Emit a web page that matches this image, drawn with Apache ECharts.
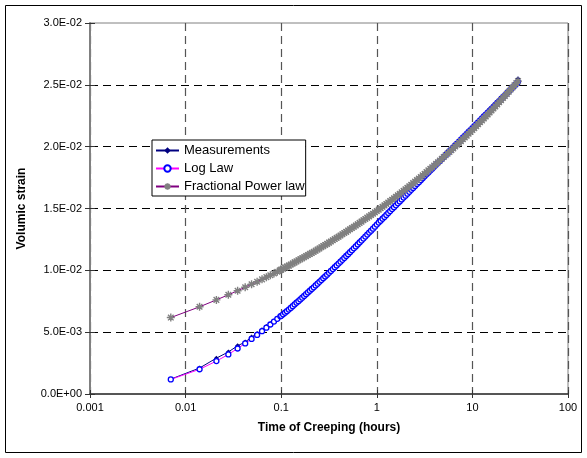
<!DOCTYPE html>
<html>
<head>
<meta charset="utf-8">
<script src="https://cdn.jsdelivr.net/npm/echarts@6/dist/echarts.min.js"></script>
<style>
  html, body { margin: 0; padding: 0; background: #fff; }
  #chart { width: 587px; height: 458px; }
</style>
</head>
<body>
<div id="chart"></div>
<script>
// time of creeping (hours)
const hours = [
  0.007, 0.014, 0.021, 0.028, 0.035, 0.042, 0.049, 0.056, 0.063, 0.070, 0.077, 0.084, 0.091, 0.098,
  0.1, 0.1047, 0.1096, 0.1148, 0.1202, 0.1259, 0.1318, 0.1380, 0.1445, 0.1514, 0.1585, 0.1660, 0.1738, 0.1820, 0.1905,
  0.1995, 0.2089, 0.2188, 0.2291, 0.2399, 0.2512, 0.2630, 0.2754, 0.2884, 0.3020, 0.3162, 0.3311, 0.3467, 0.3631,
  0.3802, 0.3981, 0.4169, 0.4365, 0.4571, 0.4786, 0.5012, 0.5248, 0.5495, 0.5754, 0.6026, 0.6310, 0.6607, 0.6918,
  0.7244, 0.7586, 0.7943, 0.8318, 0.8710, 0.9120, 0.9550,
  1, 1.047, 1.096, 1.148, 1.202, 1.259, 1.318, 1.380, 1.445, 1.514, 1.585, 1.660, 1.738, 1.820, 1.905,
  1.995, 2.089, 2.188, 2.291, 2.399, 2.512, 2.630, 2.754, 2.884, 3.020, 3.162, 3.311, 3.467, 3.631,
  3.802, 3.981, 4.169, 4.365, 4.571, 4.786, 5.012, 5.248, 5.495, 5.754, 6.026, 6.310, 6.607, 6.918,
  7.244, 7.586, 7.943, 8.318, 8.710, 9.120, 9.550,
  10, 10.47, 10.96, 11.48, 12.02, 12.59, 13.18, 13.80, 14.45, 15.14, 15.85, 16.60, 17.38, 18.20, 19.05,
  19.95, 20.89, 21.88, 22.91, 23.99, 25.12, 26.30, 27.54, 28.84, 30
];

const measurements = [
  0.00120, 0.00210, 0.00290, 0.00340, 0.00390, 0.00420, 0.00460, 0.00490, 0.00520, 0.00545, 0.00568, 0.00590, 0.00612, 0.00630,
  0.00636, 0.00642, 0.00662, 0.00670, 0.00680, 0.00702, 0.00711, 0.00722, 0.00742, 0.00754, 0.00764, 0.00784, 0.00795, 0.00804, 0.00827,
  0.00835, 0.00853, 0.00861, 0.00881, 0.00897, 0.00906, 0.00925, 0.00938, 0.00948, 0.00971, 0.00981, 0.00998, 0.01009, 0.01030,
  0.01042, 0.01053, 0.01076, 0.01085, 0.01103, 0.01120, 0.01130, 0.01152, 0.01164, 0.01176, 0.01199, 0.01210, 0.01228, 0.01240,
  0.01262, 0.01273, 0.01293, 0.01307, 0.01319, 0.01343, 0.01354,
  0.01375, 0.01386, 0.01409, 0.01419, 0.01442, 0.01445, 0.01470, 0.01491, 0.01496, 0.01517, 0.01524, 0.01551, 0.01561, 0.01585, 0.01588,
  0.01612, 0.01623, 0.01646, 0.01650, 0.01672, 0.01692, 0.01700, 0.01722, 0.01727, 0.01756, 0.01765, 0.01777, 0.01801, 0.01811,
  0.01835, 0.01838, 0.01861, 0.01880, 0.01887, 0.01909, 0.01913, 0.01944, 0.01953, 0.01964, 0.01988, 0.01998, 0.02024, 0.02025,
  0.02049, 0.02067, 0.02075, 0.02097, 0.02101, 0.02131, 0.02139,
  0.02158, 0.02168, 0.02193, 0.02197, 0.02222, 0.02232, 0.02257, 0.02260, 0.02284, 0.02304, 0.02309, 0.02333, 0.02335, 0.02365, 0.02374,
  0.02399, 0.02402, 0.02425, 0.02444, 0.02446, 0.02474, 0.02483, 0.02507, 0.02517, 0.02550
];

const logLaw = [
  0.00118, 0.00200, 0.00266, 0.00320, 0.00368, 0.00409, 0.00445, 0.00478, 0.00508, 0.00536, 0.00562, 0.00586, 0.00608, 0.00628,
  0.00632, 0.00644, 0.00657, 0.00670, 0.00683, 0.00696, 0.00710, 0.00724, 0.00738, 0.00751, 0.00765, 0.00779, 0.00793, 0.00807, 0.00821,
  0.00835, 0.00849, 0.00863, 0.00878, 0.00892, 0.00907, 0.00921, 0.00936, 0.00950, 0.00965, 0.00980, 0.00995, 0.01010, 0.01025,
  0.01040, 0.01055, 0.01070, 0.01085, 0.01100, 0.01116, 0.01131, 0.01147, 0.01162, 0.01178, 0.01193, 0.01209, 0.01225, 0.01241,
  0.01257, 0.01273, 0.01289, 0.01305, 0.01321, 0.01337, 0.01353,
  0.01370, 0.01386, 0.01401, 0.01417, 0.01432, 0.01448, 0.01464, 0.01479, 0.01495, 0.01510, 0.01526, 0.01542, 0.01557, 0.01573, 0.01588,
  0.01604, 0.01620, 0.01635, 0.01651, 0.01666, 0.01682, 0.01698, 0.01713, 0.01729, 0.01744, 0.01760, 0.01776, 0.01791, 0.01807,
  0.01822, 0.01838, 0.01854, 0.01869, 0.01885, 0.01900, 0.01916, 0.01932, 0.01947, 0.01963, 0.01978, 0.01994, 0.02010, 0.02025,
  0.02041, 0.02056, 0.02072, 0.02088, 0.02103, 0.02119, 0.02134,
  0.02150, 0.02166, 0.02181, 0.02197, 0.02212, 0.02228, 0.02244, 0.02259, 0.02275, 0.02290, 0.02306, 0.02322, 0.02337, 0.02353, 0.02368,
  0.02384, 0.02400, 0.02415, 0.02431, 0.02446, 0.02462, 0.02478, 0.02493, 0.02509, 0.02522
];

const fractionalPower = [
  0.00618, 0.00705, 0.00761, 0.00802, 0.00835, 0.00863, 0.00887, 0.00908, 0.00927, 0.00945, 0.00960, 0.00975, 0.00989, 0.01002,
  0.01006, 0.01014, 0.01022, 0.01030, 0.01038, 0.01047, 0.01055, 0.01064, 0.01072, 0.01081, 0.01089, 0.01098, 0.01106, 0.01115, 0.01124,
  0.01133, 0.01141, 0.01150, 0.01159, 0.01168, 0.01177, 0.01187, 0.01196, 0.01205, 0.01214, 0.01224, 0.01233, 0.01243, 0.01253,
  0.01263, 0.01272, 0.01282, 0.01292, 0.01302, 0.01311, 0.01322, 0.01332, 0.01342, 0.01352, 0.01363, 0.01373, 0.01384, 0.01394,
  0.01405, 0.01415, 0.01426, 0.01436, 0.01447, 0.01458, 0.01469,
  0.01480, 0.01491, 0.01502, 0.01514, 0.01525, 0.01537, 0.01548, 0.01560, 0.01571, 0.01583, 0.01595, 0.01607, 0.01618, 0.01631, 0.01643,
  0.01655, 0.01667, 0.01680, 0.01692, 0.01705, 0.01717, 0.01730, 0.01742, 0.01755, 0.01768, 0.01781, 0.01794, 0.01808, 0.01821,
  0.01834, 0.01847, 0.01861, 0.01874, 0.01888, 0.01902, 0.01916, 0.01930, 0.01944, 0.01958, 0.01972, 0.01986, 0.02001, 0.02015,
  0.02030, 0.02045, 0.02060, 0.02074, 0.02089, 0.02104, 0.02120,
  0.02135, 0.02150, 0.02165, 0.02181, 0.02197, 0.02212, 0.02228, 0.02244, 0.02260, 0.02276, 0.02293, 0.02309, 0.02326, 0.02342, 0.02359,
  0.02376, 0.02393, 0.02410, 0.02427, 0.02444, 0.02462, 0.02479, 0.02497, 0.02514, 0.02530
];

const xMin = 0.001, xMax = 100;
const yMin = 0, yMax = 0.03, yStep = 0.005;

const font = 'Liberation Sans, Arial, sans-serif';

function sci(v) {
  if (Math.abs(v) < 1e-12) return '0.0E+00';
  const e = Math.floor(Math.log10(v) + 1e-9);
  const m = v / Math.pow(10, e);
  return m.toFixed(1) + 'E' + (e < 0 ? '-' : '+') + String(Math.abs(e)).padStart(2, '0');
}

const pairs = ys => hours.map((t, i) => [t, ys[i]]);

const chart = echarts.init(document.getElementById('chart'), null, { renderer: 'canvas' });

const gridLine = { color: '#000', type: [8, 5], width: 1 };

chart.setOption({
  animation: false,
  textStyle: { fontFamily: font },
  graphic: [{
    type: 'rect',
    shape: { x: 5.5, y: 5.5, width: 576, height: 447 },
    style: { fill: 'none', stroke: '#000', lineWidth: 1 },
    silent: true
  }],
  grid: {
    left: 90, right: 19, top: 23, bottom: 64,
    show: true, borderColor: '#808080', borderWidth: 1
  },
  legend: {
    orient: 'vertical',
    left: 152, top: 140,
    itemWidth: 23, itemHeight: 8, itemGap: 5,
    padding: [4, 1, 3, 3],
    borderColor: '#000', borderWidth: 1,
    backgroundColor: '#fff',
    textStyle: { fontSize: 13, color: '#000', fontFamily: font },
    data: ['Measurements', 'Log Law', 'Fractional Power law']
  },
  xAxis: [{
    type: 'log', logBase: 10, min: xMin, max: xMax,
    name: 'Time of Creeping (hours)',
    nameLocation: 'middle', nameGap: 28,
    nameTextStyle: { fontSize: 12, fontWeight: 'bold', color: '#000' },
    axisLine: { lineStyle: { color: '#333', width: 1.5 } },
    axisTick: { show: true, length: 4, lineStyle: { color: '#333' } },
    axisLabel: {
      fontSize: 11, color: '#000', margin: 8,
      formatter: v => String(parseFloat(Number(v).toPrecision(3)))
    },
    splitLine: { show: true, lineStyle: { color: '#555', type: [8, 5], width: 1.2 } },
    minorTick: { show: false }
  }, {
    type: 'log', logBase: 10, min: xMin, max: xMax, position: 'bottom',
    axisLine: { show: false },
    axisTick: { show: true, inside: true, length: 4, lineStyle: { color: '#333' } },
    axisLabel: { show: false },
    splitLine: { show: false }
  }],
  yAxis: [{
    type: 'value', min: yMin, max: yMax, interval: yStep,
    name: 'Volumic strain',
    nameLocation: 'middle', nameGap: 62,
    nameTextStyle: { fontSize: 12, fontWeight: 'bold', color: '#000' },
    axisLine: { show: true, lineStyle: { color: '#808080', width: 2 } },
    axisTick: { show: true, length: 5, lineStyle: { color: '#333' } },
    axisLabel: { fontSize: 11, color: '#000', margin: 8, formatter: sci },
    splitLine: { show: true, showMinLine: false, showMaxLine: false, lineStyle: gridLine }
  }, {
    type: 'value', min: yMin, max: yMax, interval: yStep, position: 'left',
    axisLine: { show: false },
    axisTick: { show: true, inside: true, length: 5, lineStyle: { color: '#333' } },
    axisLabel: { show: false },
    splitLine: { show: false }
  }],
  series: [{
    name: 'Measurements',
    type: 'line',
    data: pairs(measurements),
    symbol: 'diamond', symbolSize: 5,
    showSymbol: true, showAllSymbol: true,
    itemStyle: { color: '#000080' },
    lineStyle: { color: '#000080', width: 1 },
    z: 2
  }, {
    name: 'Log Law',
    type: 'line',
    data: pairs(logLaw),
    symbol: 'circle', symbolSize: 5,
    showSymbol: true, showAllSymbol: true,
    itemStyle: { color: '#fff', borderColor: '#0000FF', borderWidth: 1.3 },
    lineStyle: { color: '#FF00FF', width: 1 },
    z: 3
  }, {
    name: 'Fractional Power law',
    type: 'line',
    data: pairs(fractionalPower),
    symbol: 'path://M0,5L10,5M5,0L5,10M1.5,1.5L8.5,8.5M8.5,1.5L1.5,8.5', symbolSize: 8,
    showSymbol: true, showAllSymbol: true,
    itemStyle: { color: '#808080', borderColor: '#808080', borderWidth: 1.4 },
    lineStyle: { color: '#800080', width: 1 },
    z: 4
  }]
});
</script>
</body>
</html>
